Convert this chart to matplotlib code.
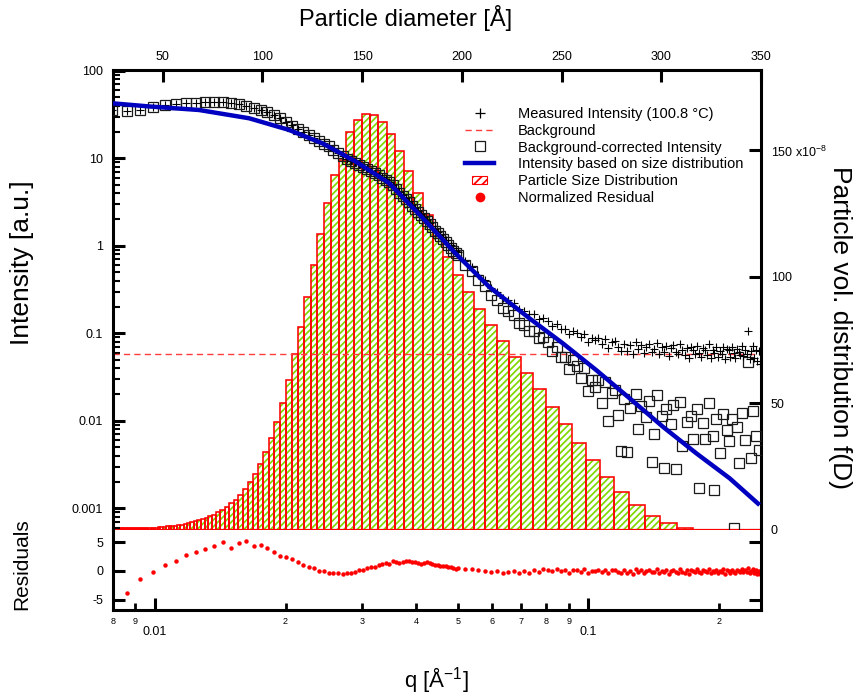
import numpy as np
import matplotlib
matplotlib.use("Agg")
import matplotlib.pyplot as plt
import matplotlib.ticker as mticker
from matplotlib.lines import Line2D
from matplotlib.patches import Patch, Rectangle
from matplotlib.legend_handler import HandlerPatch

# ---------------- data ----------------
q_low = [0.00797, 0.008607, 0.009244, 0.009881, 0.010518, 0.011155, 0.011792, 0.012429, 0.013066, 0.013703,
         0.01434, 0.014977, 0.015614, 0.016251, 0.016888, 0.017525, 0.018162, 0.018799, 0.019436, 0.020073,
         0.02071, 0.021347, 0.021984, 0.022621, 0.023258, 0.023895, 0.024532, 0.025169, 0.025806, 0.026443,
         0.02708, 0.027717, 0.028354, 0.028991, 0.029628, 0.030265, 0.030902, 0.031539, 0.032176, 0.032813,
         0.03345, 0.034087, 0.034724, 0.035361, 0.035998, 0.036635, 0.037272, 0.037909, 0.038546, 0.039183,
         0.03982, 0.040457, 0.041094, 0.041731, 0.042368, 0.043005, 0.043642, 0.044279, 0.044916, 0.045553,
         0.04619, 0.046827, 0.047464, 0.048101, 0.048738, 0.049375]
I_meas_low = [35.6, 35.0, 35.6, 38.9, 40.6, 41.7, 42.5, 43.2, 43.7, 43.7,
              43.6, 42.5, 41.4, 39.9, 37.9, 35.6, 33.5, 31.3, 28.7, 26.2,
              23.7, 21.5, 19.9, 18.6, 17.1, 15.8, 14.8, 13.7, 12.5, 11.5,
              10.6, 9.92, 9.29, 9.0, 8.5, 8.05, 7.69, 7.23, 6.78, 6.42,
              6.06, 5.74, 5.40, 4.98, 4.52, 4.12, 3.79, 3.49, 3.21, 2.94,
              2.71, 2.49, 2.29, 2.13, 1.97, 1.82, 1.68, 1.55, 1.45, 1.34,
              1.25, 1.16, 1.08, 1.01, 0.94, 0.88]
resid_low = [np.nan, -3.8, -1.4, -0.2, 1.05, 1.8, 2.75, 3.4, 3.8, 4.45,
             5.0, 4.0, 4.9, 5.2, 4.45, 4.55, 4.0, 3.3, 2.55, 2.4,
             2.1, 1.6, 1.1, 0.75, 0.6, 0.0, 0.0, -0.4, -0.3, -0.35,
             -0.45, -0.35, -0.3, -0.1, 0.1, 0.25, 0.6, 0.7, 0.65, 1.0,
             1.2, 1.35, 1.3, 1.75, 1.6, 1.45, 1.6, 1.7, 1.75, 1.55,
             1.6, 1.35, 1.15, 1.45, 1.5, 1.4, 1.2, 1.05, 1.1, 0.9,
             0.95, 0.8, 0.65, 0.7, 0.5, 0.4]

q_mid = [0.05001, 0.05192, 0.05383, 0.05575, 0.05766, 0.05957, 0.06148, 0.06339, 0.0653, 0.06721,
         0.06912, 0.07103, 0.07294, 0.07486, 0.07677, 0.07868, 0.08059, 0.0825, 0.08441, 0.08632,
         0.08823, 0.09014, 0.09205, 0.09397, 0.09588, 0.09779, 0.0997, 0.10161, 0.10352, 0.10543,
         0.10734, 0.10925, 0.11116, 0.11308, 0.11499, 0.1169, 0.11881]
I_meas_mid = [0.847, 0.665, 0.570, 0.464, 0.410, 0.332, 0.296, 0.251, 0.238, 0.219,
              0.188, 0.182, 0.164, 0.165, 0.147, 0.149, 0.1375, 0.1205, 0.1275, 0.1125,
              0.1125, 0.0975, 0.1075, 0.1005, 0.0895, 0.0985, 0.0805, 0.0875, 0.083, 0.0875,
              0.0745, 0.086, 0.0685, 0.0795, 0.081, 0.070, 0.063]
resid_mid = [0.45, 0.30, 0.38, 0.12, 0.05, -0.20, -0.05, -0.35, -0.15, 0.05,
             -0.30, -0.05, -0.35, 0.15, -0.10, 0.30, 0.25, -0.05, 0.35, 0.0,
             0.10, -0.30, 0.20, 0.10, -0.20, 0.30, -0.30, 0.05, -0.05, 0.20,
             -0.25, 0.25, -0.35, 0.10, 0.20, -0.15, -0.40]

q_high = [0.12072, 0.12263, 0.12454, 0.12645, 0.12836, 0.13027, 0.13219, 0.1341, 0.13601, 0.13792,
          0.13983, 0.14174, 0.14365, 0.14556, 0.14747, 0.14938, 0.1513, 0.15321, 0.15512, 0.15703,
          0.15894, 0.16085, 0.16276, 0.16467, 0.16658, 0.16849, 0.17041, 0.17232, 0.17423, 0.17614,
          0.17805, 0.17996, 0.18187, 0.18378, 0.18569, 0.1876, 0.18952, 0.19143, 0.19334, 0.19525,
          0.19716, 0.19907, 0.20098, 0.20289, 0.2048, 0.20671, 0.20863, 0.21054, 0.21245, 0.21436,
          0.21627, 0.21818, 0.22009, 0.222, 0.22391, 0.22582, 0.22774, 0.22965, 0.23156, 0.23347,
          0.23538, 0.23729, 0.2392, 0.24111, 0.24302, 0.24493, 0.24685, 0.24876]
I_meas_high = [0.0763, 0.0629, 0.0726, 0.0582, 0.0789, 0.0665, 0.0732, 0.0588, 0.0695, 0.0752,
               0.0619, 0.0656, 0.0783, 0.0580, 0.0697, 0.0614, 0.0722, 0.0549, 0.0677, 0.0735,
               0.0613, 0.0580, 0.0748, 0.0636, 0.0564, 0.0682, 0.0520, 0.0698, 0.0647, 0.0585,
               0.0723, 0.0602, 0.0540, 0.0679, 0.0647, 0.0566, 0.0745, 0.0523, 0.0652, 0.0601,
               0.0690, 0.0539, 0.0628, 0.0577, 0.0706, 0.0505, 0.0664, 0.0643, 0.0542, 0.0691,
               0.0591, 0.0520, 0.0669, 0.0618, 0.0558, 0.0707, 0.0546, 0.0646, 0.0575, 0.1055,
               0.0504, 0.0623, 0.0713, 0.0522, 0.0652, 0.0481, 0.0631, 0.0450]
resid_high = [0.13, -0.33, 0.02, -0.47, 0.27, -0.16, 0.09, -0.40, -0.02, 0.20,
              -0.26, -0.12, 0.34, -0.37, 0.06, -0.23, 0.16, -0.44, 0.02, 0.23,
              -0.19, -0.30, 0.30, -0.09, -0.33, 0.09, -0.47, 0.16, -0.02, -0.23,
              0.27, -0.16, -0.37, 0.13, 0.02, -0.26, 0.37, -0.40, 0.06, -0.12,
              0.20, -0.33, -0.02, -0.19, 0.27, -0.44, 0.13, 0.06, -0.30, 0.23,
              -0.12, -0.37, 0.16, -0.02, -0.23, 0.30, -0.26, 0.09, -0.16, 0.60,
              -0.40, 0.02, 0.34, -0.33, 0.13, -0.47, 0.06, -0.58]

background = 0.0585

q_fit = [0.00796, 0.00969, 0.01264, 0.01648, 0.02039, 0.02434, 0.02907, 0.03471, 0.04143, 0.04949,
         0.05906, 0.07306, 0.0872, 0.1041, 0.1244, 0.1484, 0.1773, 0.2117, 0.2482]
I_fit = [42.5, 39.1, 35.6, 28.65, 21.06, 14.8, 9.14, 5.18, 2.08, 0.806,
         0.338, 0.1484, 0.0769, 0.0381, 0.01808, 0.00856, 0.00425, 0.0022, 0.00109]

# size distribution: bin edges (Angstrom) and f(D) in units of 1e-8
D_edges = [25.10, 25.78, 26.47, 27.19, 27.92, 28.68, 29.45, 30.25, 31.07, 31.91,
           32.77, 33.65, 34.56, 35.50, 36.46, 37.44, 38.45, 39.49, 40.56, 41.65,
           42.78, 43.93, 45.12, 46.34, 47.59, 48.88, 50.20, 51.55, 52.95, 54.38,
           55.85, 57.35, 58.90, 60.49, 62.13, 63.81, 65.53, 67.30, 69.12, 70.99,
           72.91, 74.88, 76.90, 78.98, 81.11, 83.30, 85.55, 87.87, 90.24, 92.68,
           95.18, 97.75, 100.39, 103.11, 105.89, 108.75, 111.69, 114.71, 117.81, 121.00,
           124.27, 127.62, 131.07, 134.61, 138.25, 141.99, 145.82, 149.76, 153.81, 157.97,
           162.24, 166.62, 171.12, 175.75, 180.50, 185.38, 190.38, 195.53, 200.81, 206.24,
           211.81, 217.54, 223.42, 229.45, 235.65, 242.02, 248.56, 255.28, 262.18, 269.26,
           276.54, 284.01, 291.69, 299.57, 307.67, 315.98]
f_D = [0.6, 0.6, 0.6, 0.6, 0.6, 0.6, 0.6, 0.6, 0.6, 0.6,
       0.6, 0.7, 0.7, 0.7, 0.7, 0.7, 0.7, 0.7, 0.7, 0.7,
       0.7, 0.9, 0.9, 0.9, 1.1, 1.2, 1.3, 1.4, 1.5, 1.6,
       1.7, 1.9, 2.1, 2.4, 2.7, 3.1, 3.5, 3.9, 4.3, 4.9,
       5.4, 6.1, 7.1, 7.9, 9.1, 10.5, 11.9, 14.0, 16.1, 19.0,
       22.3, 26.0, 30.8, 36.2, 42.7, 50.3, 59.2, 69.5, 80.1, 92.0,
       104.6, 117.1, 129.1, 140.2, 146.3, 157.2, 162.1, 164.4, 164.0, 161.4,
       156.5, 149.9, 142.0, 133.3, 124.5, 116.2, 108.0, 100.8, 94.0, 87.2,
       81.0, 74.8, 68.5, 61.9, 55.6, 48.7, 41.8, 34.5, 27.7, 21.1,
       15.1, 9.9, 5.7, 2.9, 0.9]

top_ticks = [50, 100, 150, 200, 250, 300, 350]
right_ticks = [0, 50, 100, 150]
resid_ticks = [-5, 0, 5]
q_major = [0.01, 0.1]
q_minor = [0.008, 0.009, 0.02, 0.03, 0.04, 0.05, 0.06, 0.07, 0.08, 0.09, 0.2]

labels = ["Measured Intensity (100.8 \u00b0C)", "Background", "Background-corrected Intensity",
          "Intensity based on size distribution", "Particle Size Distribution", "Normalized Residual"]

# ---------------- style ----------------
plt.rcParams['font.family'] = ['Liberation Sans', 'DejaVu Sans']
plt.rcParams['mathtext.default'] = 'regular'
plt.rcParams['axes.unicode_minus'] = False
plt.rcParams['hatch.linewidth'] = 1.25

GREEN = '#7fd800'
RED = '#ff0000'
BLUE = '#0000c0'
SPW = 2.2

W, H = 857, 696
fig = plt.figure(figsize=(W / 100, H / 100), dpi=100)

def fx(px):
    return px / W

def fy(py):
    return 1 - py / H

L, R, T, B, RB = 113, 761, 70, 530, 610
main_rect = [fx(L), fy(B), (R - L) / W, (B - T) / H]
res_rect = [fx(L), fy(RB), (R - L) / W, (RB - B) / H]

ax_h = fig.add_axes(main_rect, zorder=1)
ax = fig.add_axes(main_rect, zorder=2)
ax.patch.set_visible(False)
ax_r = fig.add_axes(res_rect, zorder=2)

# ---- histogram on linear diameter axis (top) and right axis ----
edges = np.array(D_edges)
vals = np.array(f_D)
widths = np.diff(edges)
ax_h.bar(edges[:-1], vals, width=widths, align='edge', facecolor='white',
         edgecolor=GREEN, hatch='/////', linewidth=0)
ax_h.bar(edges[:-1], vals, width=widths, align='edge', fill=False,
         edgecolor=RED, linewidth=1.15)
ax_h.axhline(0, color=RED, lw=1.6, zorder=3)
ax_h.set_xlim(25.1, 350)
ax_h.set_ylim(0, 181.8)
ax_h.xaxis.tick_top()
ax_h.yaxis.tick_right()
ax_h.set_xticks(top_ticks)
ax_h.set_yticks(right_ticks)

def right_fmt(v, pos):
    if abs(v - 150) < 1e-6:
        return "150 x10$^{-8}$"
    return f"{v:g}"

ax_h.yaxis.set_major_formatter(mticker.FuncFormatter(right_fmt))
ax_h.tick_params(axis='x', direction='in', length=8.6, width=2.2, labelsize=9, pad=5)
ax_h.tick_params(axis='y', direction='in', length=8.6, width=2.2, labelsize=9, pad=7)
for s in ax_h.spines.values():
    s.set_visible(False)

# ---- main log-log intensity axes ----
q = np.array(q_low + q_mid + q_high)
I_meas = np.array(I_meas_low + I_meas_mid + I_meas_high)
resid = np.array(resid_low + resid_mid + resid_high)
I_corr = I_meas - background
I_corr = np.where(I_corr > 0, I_corr, np.nan)

ax.set_xscale('log')
ax.set_yscale('log')
ax.set_xlim(0.008, 0.25)
ax.set_ylim(5.65e-4, 102)
ax.axhline(background, color='#ff3b3b', lw=1.0, dashes=(4.5, 3.0), zorder=2)
ax.plot(q, I_corr, ls='none', marker='s', mfc='none', mec='#1a1a1a', ms=6.5, mew=0.9, zorder=3)
ax.plot(q, I_meas, ls='none', marker='+', color='k', ms=6, mew=0.8, zorder=4)
ax.plot(q_fit, I_fit, color=BLUE, lw=3.2, zorder=5, solid_capstyle='butt')

ax.yaxis.set_major_locator(mticker.LogLocator(base=10, numticks=20))
ax.yaxis.set_minor_locator(mticker.LogLocator(base=10, subs=np.arange(2, 10), numticks=20))
ax.yaxis.set_major_formatter(mticker.FuncFormatter(lambda v, p: f"{v:g}"))
ax.yaxis.set_minor_formatter(mticker.NullFormatter())
ax.tick_params(axis='y', which='major', direction='in', length=8.6, width=2.2, labelsize=9, pad=7,
               left=True, right=False)
ax.tick_params(axis='y', which='minor', direction='in', length=5.0, width=1.5, left=True, right=False)
ax.tick_params(axis='x', which='both', bottom=False, top=False, labelbottom=False, labeltop=False)
ax.spines['bottom'].set_visible(False)
for k in ('left', 'top', 'right'):
    ax.spines[k].set_linewidth(SPW)

# ---- residual panel ----
ax_r.set_xscale('log')
ax_r.set_xlim(0.008, 0.25)
ax_r.set_ylim(-6.84, 7.19)
ax_r.plot(q, resid, ls='none', marker='o', color=RED, mec='none', ms=3.2)
ax_r.set_yticks(resid_ticks)
ax_r.yaxis.set_major_formatter(mticker.FuncFormatter(lambda v, p: f"{v:g}"))
ax_r.tick_params(axis='y', which='major', direction='in', length=8.6, width=2.2, labelsize=9, pad=7,
                 left=True, right=True, labelright=False)
ax_r.tick_params(axis='y', which='minor', left=False, right=False)
ax_r.xaxis.set_major_locator(mticker.FixedLocator(q_major))
ax_r.xaxis.set_minor_locator(mticker.FixedLocator(q_minor))
ax_r.xaxis.set_major_formatter(mticker.FuncFormatter(lambda v, p: f"{v:g}"))

def minor_fmt(v, p):
    e = np.floor(np.log10(v) + 1e-9)
    return f"{int(round(v / 10 ** e))}"

ax_r.xaxis.set_minor_formatter(mticker.FuncFormatter(minor_fmt))
ax_r.tick_params(axis='x', which='major', direction='in', length=8.9, width=2.2, labelsize=9, pad=11.5,
                 top=False)
ax_r.tick_params(axis='x', which='minor', direction='in', length=4.8, width=2.0, labelsize=6.5, pad=5,
                 top=False)
ax_r.spines['top'].set_visible(False)
for k in ('left', 'bottom', 'right'):
    ax_r.spines[k].set_linewidth(SPW)

# ---- legend ----
def small_rect(legend, orig_handle, xdescent, ydescent, width, height, fontsize):
    w = width * 0.5
    h = height * 0.75
    return Rectangle((-xdescent + (width - w) / 2, -ydescent + (height - h) / 2), w, h)

handles = [
    Line2D([], [], ls='none', marker='+', color='k', ms=7, mew=0.9),
    Line2D([], [], color='#ff3b3b', lw=1.0, dashes=(4.5, 3.0)),
    Line2D([], [], ls='none', marker='s', mfc='none', mec='#1a1a1a', ms=7, mew=0.9),
    Line2D([], [], color=BLUE, lw=3.2),
    Patch(facecolor='white', edgecolor=RED, hatch='////', lw=0.8),
    Line2D([], [], ls='none', marker='o', color=RED, mec='none', ms=7),
]
leg = fig.legend(handles, labels, loc='upper left', bbox_to_anchor=(fx(465), fy(107)),
                 frameon=False, fontsize=10.5, handlelength=2.0, handletextpad=1.6,
                 labelspacing=0.19, borderpad=0, borderaxespad=0,
                 handler_map={Patch: HandlerPatch(patch_func=small_rect)})
leg.set_zorder(10)

# ---- axis titles ----
fig.text(fx(406), fy(18), "Particle diameter [\u00c5]", ha='center', va='center', fontsize=17)
fig.text(fx(22), fy(263), "Intensity [a.u.]", ha='center', va='center', rotation=90, fontsize=19)
fig.text(fx(22), fy(564), "Residuals", ha='center', va='center', rotation=90, fontsize=15)
fig.text(fx(840), fy(328), "Particle vol. distribution f(D)", ha='center', va='center',
         rotation=270, fontsize=19)
fig.text(fx(436), fy(680), "q [\u00c5$^{-1}$]", ha='center', va='center', fontsize=16)

fig.savefig("out.png", dpi=100)
